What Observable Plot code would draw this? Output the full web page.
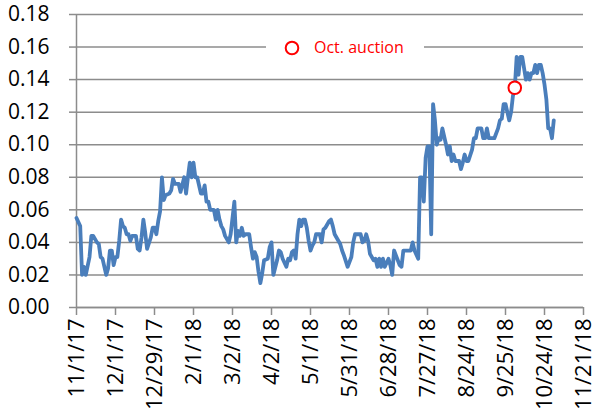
<!DOCTYPE html>
<html>
<head>
<meta charset="utf-8">
<script src="https://cdn.jsdelivr.net/npm/d3@7"></script>
<script src="https://cdn.jsdelivr.net/npm/@observablehq/plot@0.6"></script>
<style>
  html, body { margin: 0; padding: 0; background: #fff; }
  #wrap { position: relative; width: 593px; height: 412px; overflow: hidden; }
  #legend { position: absolute; left: 266px; top: 33px; width: 158px; height: 30px; background: #fff;
            font-family: "Open Sans", sans-serif; font-size: 16px; color: #ff0000; }
  #legend svg { position: absolute; left: 17px; top: 7px; }
  #legend span { position: absolute; left: 48px; top: 3px; line-height: 22px; white-space: nowrap; }
</style>
</head>
<body>
<div id="wrap">
  <div id="chart"></div>
  <div id="legend"><svg width="18" height="18"><circle cx="9" cy="8" r="6.3" fill="#fff" stroke="#ff0000" stroke-width="2"></circle></svg><span>Oct. auction</span></div>
</div>
<script>
// x-axis category labels (one every 21 trading days)
const tickLabels = ["11/1/17","12/1/17","12/29/17","2/1/18","3/2/18","4/2/18","5/1/18","5/31/18","6/28/18","7/27/18","8/24/18","9/25/18","10/24/18","11/21/18"];
const tickEvery = 21;
const yTicks = [0, 0.02, 0.04, 0.06, 0.08, 0.10, 0.12, 0.14, 0.16, 0.18];

// [trading-day index, value]
const series = [
[0,.055],[2,.050],[3,.020],[4,.025],[5,.020],[7,.031],[8,.044],[9,.044],[11,.040],[12,.039],[13,.031],[14,.030],[16,.020],[17,.024],[18,.035],[19,.035],[20,.026],[21,.031],[22,.031],[23,.041],[24,.054],[25,.050],[26,.049],[27,.045],[28,.045],[29,.041],[30,.044],[32,.044],[33,.036],[34,.035],[35,.043],[36,.054],[37,.046],[38,.036],[40,.043],[41,.049],[42,.049],[43,.045],[44,.053],[45,.059],[46,.080],[47,.066],[48,.069],[50,.070],[51,.072],[52,.079],[53,.076],[54,.076],[55,.076],[56,.071],[58,.080],[59,.070],[60,.080],[61,.089],[62,.080],[63,.089],[64,.080],[65,.080],[67,.070],[68,.070],[69,.075],[70,.065],[71,.065],[72,.060],[74,.060],[75,.054],[76,.060],[77,.054],[78,.050],[79,.048],[80,.044],[82,.040],[83,.045],[84,.055],[85,.065],[86,.040],[87,.047],[88,.044],[89,.049],[90,.044],[91,.045],[93,.045],[94,.037],[95,.030],[96,.034],[97,.031],[98,.022],[99,.015],[100,.021],[101,.029],[103,.030],[104,.037],[105,.040],[106,.020],[108,.029],[109,.035],[110,.034],[111,.030],[113,.025],[114,.030],[115,.029],[116,.034],[117,.035],[118,.030],[119,.045],[120,.054],[121,.050],[122,.054],[123,.054],[124,.049],[125,.041],[126,.035],[127,.038],[128,.040],[129,.045],[131,.045],[132,.040],[133,.048],[134,.049],[136,.053],[137,.054],[138,.050],[139,.045],[141,.041],[142,.039],[143,.035],[144,.032],[146,.025],[148,.031],[149,.040],[150,.045],[151,.045],[153,.045],[154,.040],[155,.041],[156,.045],[157,.041],[158,.033],[160,.029],[161,.030],[162,.025],[163,.030],[164,.025],[165,.030],[166,.025],[168,.030],[169,.026],[170,.020],[171,.035],[173,.029],[174,.026],[175,.025],[176,.035],[177,.035],[179,.035],[180,.035],[181,.040],[182,.035],[184,.030],[185,.080],[186,.080],[187,.065],[188,.092],[189,.099],[190,.099],[191,.045],[192,.125],[193,.115],[194,.100],[195,.104],[196,.103],[197,.110],[199,.100],[200,.094],[201,.099],[202,.090],[203,.094],[204,.090],[206,.090],[207,.085],[208,.089],[209,.094],[210,.090],[211,.090],[213,.097],[214,.104],[215,.104],[216,.110],[218,.110],[219,.104],[220,.104],[221,.110],[222,.104],[224,.104],[225,.104],[227,.110],[228,.115],[229,.116],[230,.125],[231,.125],[232,.120],[233,.115],[234,.120],[235,.130],[236,.135],[237,.154],[238,.143],[239,.154],[240,.154],[241,.147],[242,.140],[243,.144],[244,.140],[245,.144],[246,.144],[247,.149],[248,.144],[249,.149],[250,.149],[251,.144],[252,.137],[253,.128],[254,.110],[255,.110],[256,.104],[257,.115]
];
// Oct. auction marker
const auction = [[236, 0.135]];

const lineData = series.map(([d, v]) => ({d, v}));
const auctionData = auction.map(([d, v]) => ({d, v}));
const tickIdx = tickLabels.map((_, i) => i * tickEvery);
const grey = "#8c8c8c";

const chart = Plot.plot({
  width: 593,
  height: 412,
  marginLeft: 76,
  marginRight: 10,
  marginTop: 14,
  marginBottom: 105,
  style: {fontFamily: "'Open Sans', sans-serif", fontSize: "21px", color: "#000", background: "#fff"},
  x: {type: "linear", domain: [0, tickIdx[tickIdx.length - 1]], label: null},
  y: {domain: [0, 0.18], label: null},
  marks: [
    Plot.gridY(yTicks, {stroke: grey, strokeOpacity: 1, strokeWidth: 1.5}),
    Plot.axisY(yTicks, {label: null, tickSize: 7, tickPadding: 20, tickFormat: d3.format(".2f"), stroke: grey, strokeWidth: 1.5, fill: "#000", fontSize: 21}),
    Plot.axisX(tickIdx, {label: null, tickSize: 8, tickPadding: 3, tickRotate: -90, tickFormat: d => tickLabels[Math.round(d / tickEvery)], stroke: grey, strokeWidth: 1.5, fill: "#000", fontSize: 22}),
    Plot.ruleY([0], {stroke: grey, strokeWidth: 1.5}),
    Plot.ruleX([0], {stroke: grey, strokeWidth: 1.5}),
    Plot.line(lineData, {x: "d", y: "v", stroke: "#4a7ebb", strokeWidth: 3.8, strokeLinejoin: "round", strokeLinecap: "round"}),
    Plot.dot(auctionData, {x: "d", y: "v", r: 6.3, stroke: "#ff0000", fill: "#fff", strokeWidth: 2})
  ]
});
document.getElementById("chart").appendChild(chart);
</script>
</body>
</html>
